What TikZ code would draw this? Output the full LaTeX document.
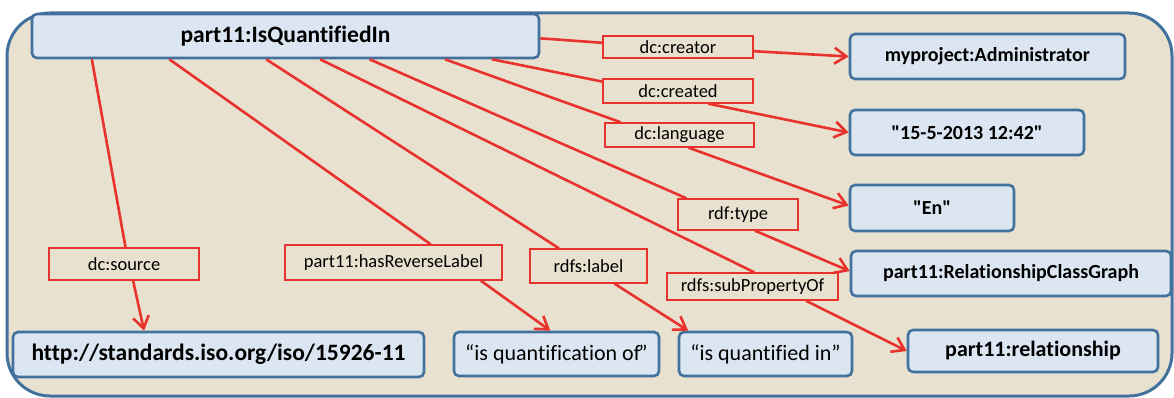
\documentclass[tikz,border=0pt]{standalone}
\usepackage{fontspec}
\setmainfont[Ligatures={TeX,NoCommon}]{Carlito}
\usetikzlibrary{arrows.meta,calc}
\definecolor{bgbeige}{HTML}{E8E1CF}
\definecolor{nodefill}{HTML}{DCE6F2}
\definecolor{nodeline}{HTML}{41719C}
\definecolor{linkred}{HTML}{E8322D}
\begin{document}
\begin{tikzpicture}[x=1pt,y=-1pt,
  resource/.style={draw=nodeline, fill=nodefill, line width=2.6pt, rounded corners=5pt,
    inner sep=0pt, font=\fontsize{20}{24}\selectfont\bfseries},
  literal/.style={resource, font=\fontsize{22}{26}\selectfont},
  prop/.style={draw=linkred, fill=bgbeige, line width=1.4pt, inner sep=0pt,
    font=\fontsize{18.5}{22}\selectfont},
  link/.style={draw=linkred, line width=2.6pt},
  pointer/.style={link, -{Straight Barb[length=12pt,width=16pt]}},
]
\useasboundingbox (0,0) rectangle (1174,398);
% named graph container
\draw[nodeline, fill=bgbeige, line width=3pt, rounded corners=43pt] (7,13) rectangle (1172,396);

% subject
\node[resource, minimum width=507pt, minimum height=44pt, font=\fontsize{23.5}{28}\selectfont\bfseries] (main) at (285.5,36) {part11:IsQuantifiedIn};

% objects
\node[resource, minimum width=275pt, minimum height=45pt] (admin) at (987.5,56.5) {myproject:Administrator};
\node[resource, minimum width=234pt, minimum height=45pt] (date) at (967,132.5) {\textquotedbl15-5-2013 12:42\textquotedbl};
\node[resource, minimum width=164pt, minimum height=46pt] (lang) at (932,208) {\textquotedbl En\textquotedbl};
\node[resource, minimum width=320pt, minimum height=45pt] (rcg) at (1011,273.5) {part11:RelationshipClassGraph};
\node[resource, minimum width=250pt, minimum height=42pt, font=\fontsize{22}{26}\selectfont\bfseries] (rel) at (1033,351) {part11:relationship};
\node[literal, minimum width=173pt, minimum height=44pt] (qin) at (765.5,354) {“is quantified in”};
\node[literal, minimum width=205pt, minimum height=44pt] (qof) at (556.5,354) {“is quantification of\kern-2pt”};
\node[resource, minimum width=411pt, minimum height=45pt, font=\fontsize{23.5}{28}\selectfont\bfseries] (iso) at (218.5,354.5) {http://standards.iso.org/iso/15926-11};

% predicates
\node[prop, minimum width=150pt, minimum height=22pt] (creator) at (678,47) {dc:creator};
\node[prop, minimum width=150pt, minimum height=24pt] (created) at (678,91) {dc:created};
\node[prop, minimum width=149pt, minimum height=24pt] (language) at (679.5,135) {dc:language};
\node[prop, minimum width=120pt, minimum height=31pt] (type) at (738,214.5) {rdf:type};
\node[prop, minimum width=171pt, minimum height=27pt] (subprop) at (752.5,286.5) {rdfs:subPropertyOf};
\node[prop, minimum width=117pt, minimum height=34pt] (label) at (588.5,266) {rdfs:label};
\node[prop, minimum width=217pt, minimum height=35pt] (revlabel) at (393.5,262.5) {part11:hasReverseLabel};
\node[prop, minimum width=150pt, minimum height=32pt] (source) at (124,264) {dc:source};

% subject to predicate
\draw[link] ($(main.north east)!.55!(main.south east)$) -- ($(creator.north west)!.32!(creator.south west)$);
\draw[link] ($(main.south west)!.905!(main.south east)$) -- ($(created.north west)!.13!(created.south west)$);
\draw[link] ($(main.south west)!.813!(main.south east)$) -- ($(language.north west)!.11!(language.north east)$);
\draw[link] ($(main.south west)!.665!(main.south east)$) -- ($(type.north west)!.075!(type.north east)$);
\draw[link] ($(main.south west)!.568!(main.south east)$) -- ($(subprop.north west)!.51!(subprop.north east)$);
\draw[link] ($(main.south west)!.462!(main.south east)$) -- ($(label.north west)!.25!(label.north east)$);
\draw[link] ($(main.south west)!.272!(main.south east)$) -- ($(revlabel.north west)!.67!(revlabel.north east)$);
\draw[link] ($(main.south west)!.120!(main.south east)$) -- ($(source.north west)!.51!(source.north east)$);

% predicate to object
\draw[pointer] ($(creator.north east)!.68!(creator.south east)$) -- (admin.west);
\draw[pointer] ($(created.south west)!.70!(created.south east)$) -- (date.west);
\draw[pointer] ($(language.south west)!.56!(language.south east)$) -- ($(lang.north west)!.45!(lang.south west)$);
\draw[pointer] ($(type.south west)!.64!(type.south east)$) -- ($(rcg.north west)!.45!(rcg.south west)$);
\draw[pointer] ($(subprop.south west)!.81!(subprop.south east)$) -- (rel.west);
\draw[pointer] ($(label.south west)!.72!(label.south east)$) -- ($(qin.north west)!.06!(qin.north east)$);
\draw[pointer] ($(revlabel.south west)!.90!(revlabel.south east)$) -- ($(qof.north west)!.47!(qof.north east)$);
\draw[pointer] ($(source.south west)!.56!(source.south east)$) -- ($(iso.north west)!.32!(iso.north east)$);
\end{tikzpicture}
\end{document}
